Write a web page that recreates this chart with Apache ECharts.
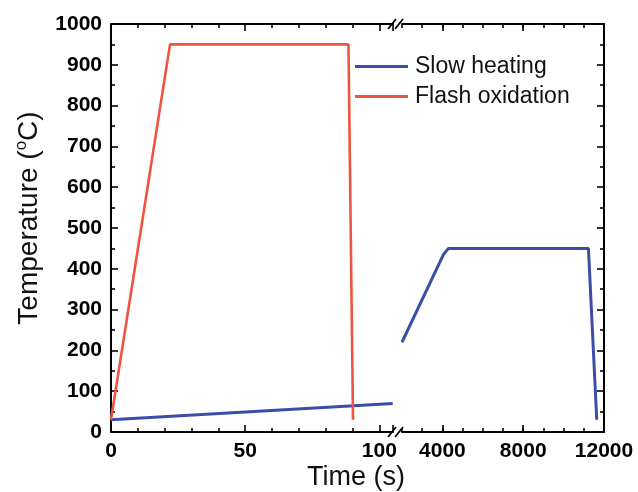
<!DOCTYPE html>
<html>
<head>
<meta charset="utf-8">
<script src="https://cdn.jsdelivr.net/npm/echarts@6/dist/echarts.min.js"></script>
<style>html,body{margin:0;padding:0;background:#fff}#c{width:638px;height:492px}</style>
</head>
<body>
<div id="c"></div>
<script>
// Data
const flashTime = [0, 22, 88.5, 90.2];
const flashTemp = [30, 950, 950, 30];
const slowTimeShort = [0, 105];
const slowTempShort = [30, 70];
const slowTimeLong = [2000, 4050, 4300, 11230, 11640];
const slowTempLong = [220, 435, 450, 450, 30];
const leftTickLabels = [0, 50, 100];
const rightTickLabels = [4000, 8000, 12000];
const seriesNames = ['Slow heating', 'Flash oxidation'];

const BLUE = '#3a4ea8', RED = '#f0543e';
const FONT = 'Liberation Sans, Arial, sans-serif';

function pairs(xs, ys) { return xs.map((x, i) => [x, ys[i]]); }

const chart = echarts.init(document.getElementById('c'), null, {renderer: 'canvas'});

const axisLine = {show: true, lineStyle: {color: '#000', width: 2}};
const tickStyle = {color: '#000', width: 1.6};
const labelStyle = {color: '#000', fontWeight: 'bold', fontSize: 21, fontFamily: FONT};

const G0 = {left: 111, top: 24, width: 282, height: 408};
const G1 = {left: 402, top: 24, width: 202, height: 408};

function breakMarks(y) {
  return [392, 399].map(x => ({
    type: 'line',
    shape: {x1: x - 4, y1: y + 5, x2: x + 4, y2: y - 5},
    style: {stroke: '#000', lineWidth: 1.8},
    z: 100
  }));
}

// y-axis title pieces with a superscript "o"
const measureCtx = document.createElement('canvas').getContext('2d');
function textWidth(t, size) { measureCtx.font = size + 'px ' + FONT; return measureCtx.measureText(t).width; }
const yName = ['Temperature (', 'o', 'C)'];
const yNameSize = 28, yNameSupSize = 17;
const w0 = textWidth(yName[0], yNameSize), w1 = textWidth(yName[1], yNameSupSize), w2 = textWidth(yName[2], yNameSize);
const wTot = w0 + w1 + w2;

const option = {
  animation: false,
  backgroundColor: '#fff',
  textStyle: {fontFamily: FONT},
  grid: [
    {left: G0.left, top: G0.top, width: G0.width, height: G0.height, containLabel: false},
    {left: G1.left, top: G1.top, width: G1.width, height: G1.height, containLabel: false}
  ],
  legend: {
    data: seriesNames,
    orient: 'vertical',
    left: 355,
    top: 55,
    padding: 0,
    itemWidth: 53,
    itemHeight: 3,
    itemGap: 7,
    icon: 'rect',
    textStyle: {fontSize: 23, color: '#111', fontFamily: FONT, padding: [0, 0, 0, 2]}
  },
  xAxis: [
    { // left grid bottom
      type: 'value', gridIndex: 0, position: 'bottom', min: 0, max: 105.1, interval: 50,
      axisLine: axisLine,
      axisTick: {show: true, inside: true, length: 7, lineStyle: tickStyle},
      minorTick: {show: true, splitNumber: 5, length: 4, lineStyle: tickStyle},
      axisLabel: Object.assign({margin: 9, formatter: v => leftTickLabels.includes(v) ? String(v) : ''}, labelStyle),
      splitLine: {show: false}
    },
    { // left grid top
      type: 'value', gridIndex: 0, position: 'top', min: 0, max: 105.1, interval: 50,
      axisLine: axisLine,
      axisTick: {show: true, inside: true, length: 7, lineStyle: tickStyle},
      minorTick: {show: true, splitNumber: 5, length: 4, lineStyle: tickStyle},
      axisLabel: {show: false}, splitLine: {show: false}
    },
    { // right grid bottom
      type: 'value', gridIndex: 1, position: 'bottom', min: 2000, max: 12000, interval: 1000,
      axisLine: axisLine,
      axisTick: {show: true, inside: true, length: 4, lineStyle: tickStyle},
      axisLabel: Object.assign({margin: 9, showMinLabel: true, showMaxLabel: true,
        formatter: v => rightTickLabels.includes(v) ? String(v) : ''}, labelStyle),
      splitLine: {show: false}
    },
    { // right grid top
      type: 'value', gridIndex: 1, position: 'top', min: 2000, max: 12000, interval: 1000,
      axisLine: axisLine,
      axisTick: {show: true, inside: true, length: 4, lineStyle: tickStyle},
      axisLabel: {show: false}, splitLine: {show: false}
    },
    { // right grid bottom major ticks
      type: 'value', gridIndex: 1, position: 'bottom', min: 2000, max: 12000,
      axisLine: {show: false},
      axisTick: {show: true, inside: true, length: 7, lineStyle: tickStyle, customValues: rightTickLabels},
      axisLabel: {show: false}, splitLine: {show: false}
    },
    { // right grid top major ticks
      type: 'value', gridIndex: 1, position: 'top', min: 2000, max: 12000,
      axisLine: {show: false},
      axisTick: {show: true, inside: true, length: 7, lineStyle: tickStyle, customValues: rightTickLabels},
      axisLabel: {show: false}, splitLine: {show: false}
    }
  ],
  yAxis: [
    {
      type: 'value', gridIndex: 0, position: 'left', min: 0, max: 1000, interval: 100,
      axisLine: axisLine,
      axisTick: {show: true, inside: true, length: 7, lineStyle: tickStyle},
      minorTick: {show: true, splitNumber: 2, length: 4, lineStyle: tickStyle},
      axisLabel: Object.assign({margin: 9, formatter: v => String(v)}, labelStyle),
      splitLine: {show: false}
    },
    {
      type: 'value', gridIndex: 1, position: 'right', min: 0, max: 1000, interval: 100,
      axisLine: axisLine,
      axisTick: {show: true, inside: true, length: 7, lineStyle: tickStyle},
      minorTick: {show: true, splitNumber: 2, length: 4, lineStyle: tickStyle},
      axisLabel: {show: false},
      splitLine: {show: false}
    }
  ],
  series: [
    {
      name: seriesNames[0], type: 'line', xAxisIndex: 0, yAxisIndex: 0,
      data: pairs(slowTimeShort, slowTempShort), symbol: 'none',
      lineStyle: {color: BLUE, width: 3}, itemStyle: {color: BLUE}, z: 3
    },
    {
      name: seriesNames[0], type: 'line', xAxisIndex: 2, yAxisIndex: 1,
      data: pairs(slowTimeLong, slowTempLong), symbol: 'none',
      lineStyle: {color: BLUE, width: 3}, itemStyle: {color: BLUE}, z: 3
    },
    {
      name: seriesNames[1], type: 'line', xAxisIndex: 0, yAxisIndex: 0,
      data: pairs(flashTime, flashTemp), symbol: 'none',
      lineStyle: {color: RED, width: 2.6}, itemStyle: {color: RED}, z: 4
    }
  ],
  graphic: [
    ...breakMarks(24),
    ...breakMarks(432),
    {
      type: 'text', x: 356, y: 478,
      style: {text: 'Time (s)', fontSize: 27, fontFamily: FONT, fill: '#111', align: 'center', verticalAlign: 'middle'}
    },
    {
      type: 'group', x: 29, y: 218, rotation: Math.PI / 2,
      children: [
        {type: 'text', x: -wTot / 2, y: 0,
         style: {text: yName[0], fontSize: yNameSize, fontFamily: FONT, fill: '#111', align: 'left', verticalAlign: 'middle'}},
        {type: 'text', x: -wTot / 2 + w0, y: -8,
         style: {text: yName[1], fontSize: yNameSupSize, fontFamily: FONT, fill: '#111', align: 'left', verticalAlign: 'middle'}},
        {type: 'text', x: -wTot / 2 + w0 + w1, y: 0,
         style: {text: yName[2], fontSize: yNameSize, fontFamily: FONT, fill: '#111', align: 'left', verticalAlign: 'middle'}}
      ]
    }
  ]
};
chart.setOption(option);
</script>
</body>
</html>
